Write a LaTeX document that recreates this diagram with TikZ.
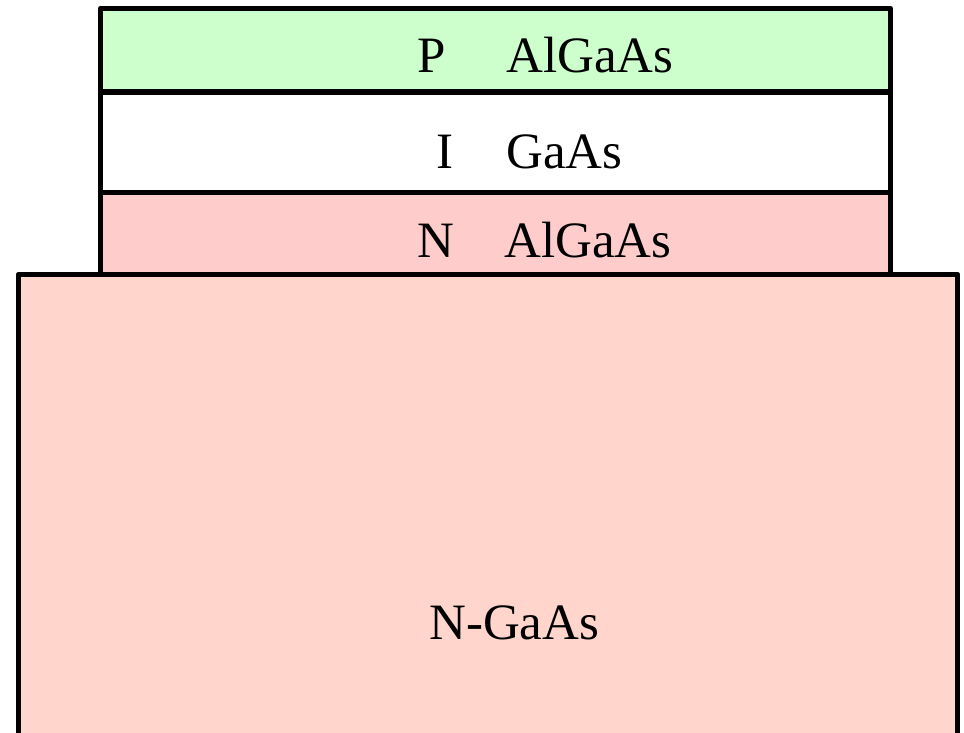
\documentclass[tikz,border=0pt]{standalone}
\usepackage{fontspec}
\setmainfont{Liberation Serif}
\definecolor{pgreen}{HTML}{CCFFCC}
\definecolor{npink}{HTML}{FFCCCC}
\definecolor{subpeach}{HTML}{FFD5CC}
\begin{document}
\begin{tikzpicture}[x=1pt,y=-1pt,
  layer/.style={draw=black,line width=5.5pt,line join=round},
  lbl/.style={inner sep=0pt,anchor=base west,font=\fontsize{51}{61}\selectfont}]
\useasboundingbox (0,0) rectangle (964,733);
\clip (0,0) rectangle (964,733);
% substrate
\filldraw[layer,fill=subpeach] (18.5,274.5) rectangle (957.5,800);
% layers
\filldraw[layer,fill=pgreen] (100.5,8.5) rectangle (890.5,92);
\filldraw[layer,fill=white] (100.5,92) rectangle (890.5,192.5);
\filldraw[layer,fill=npink] (100.5,192.5) rectangle (890.5,274.5);
% labels
\node[lbl] (p) at (417,73) {P};
\node[lbl] (pm) at (506,73) {AlGaAs};
\node[lbl] (i) at (436,168) {I};
\node[lbl] (im) at (506,168) {GaAs};
\node[lbl] (n) at (417,257) {N};
\node[lbl] (nm) at (504,257) {AlGaAs};
\node[lbl] (sub) at (429,639) {N-GaAs};
\end{tikzpicture}
\end{document}
